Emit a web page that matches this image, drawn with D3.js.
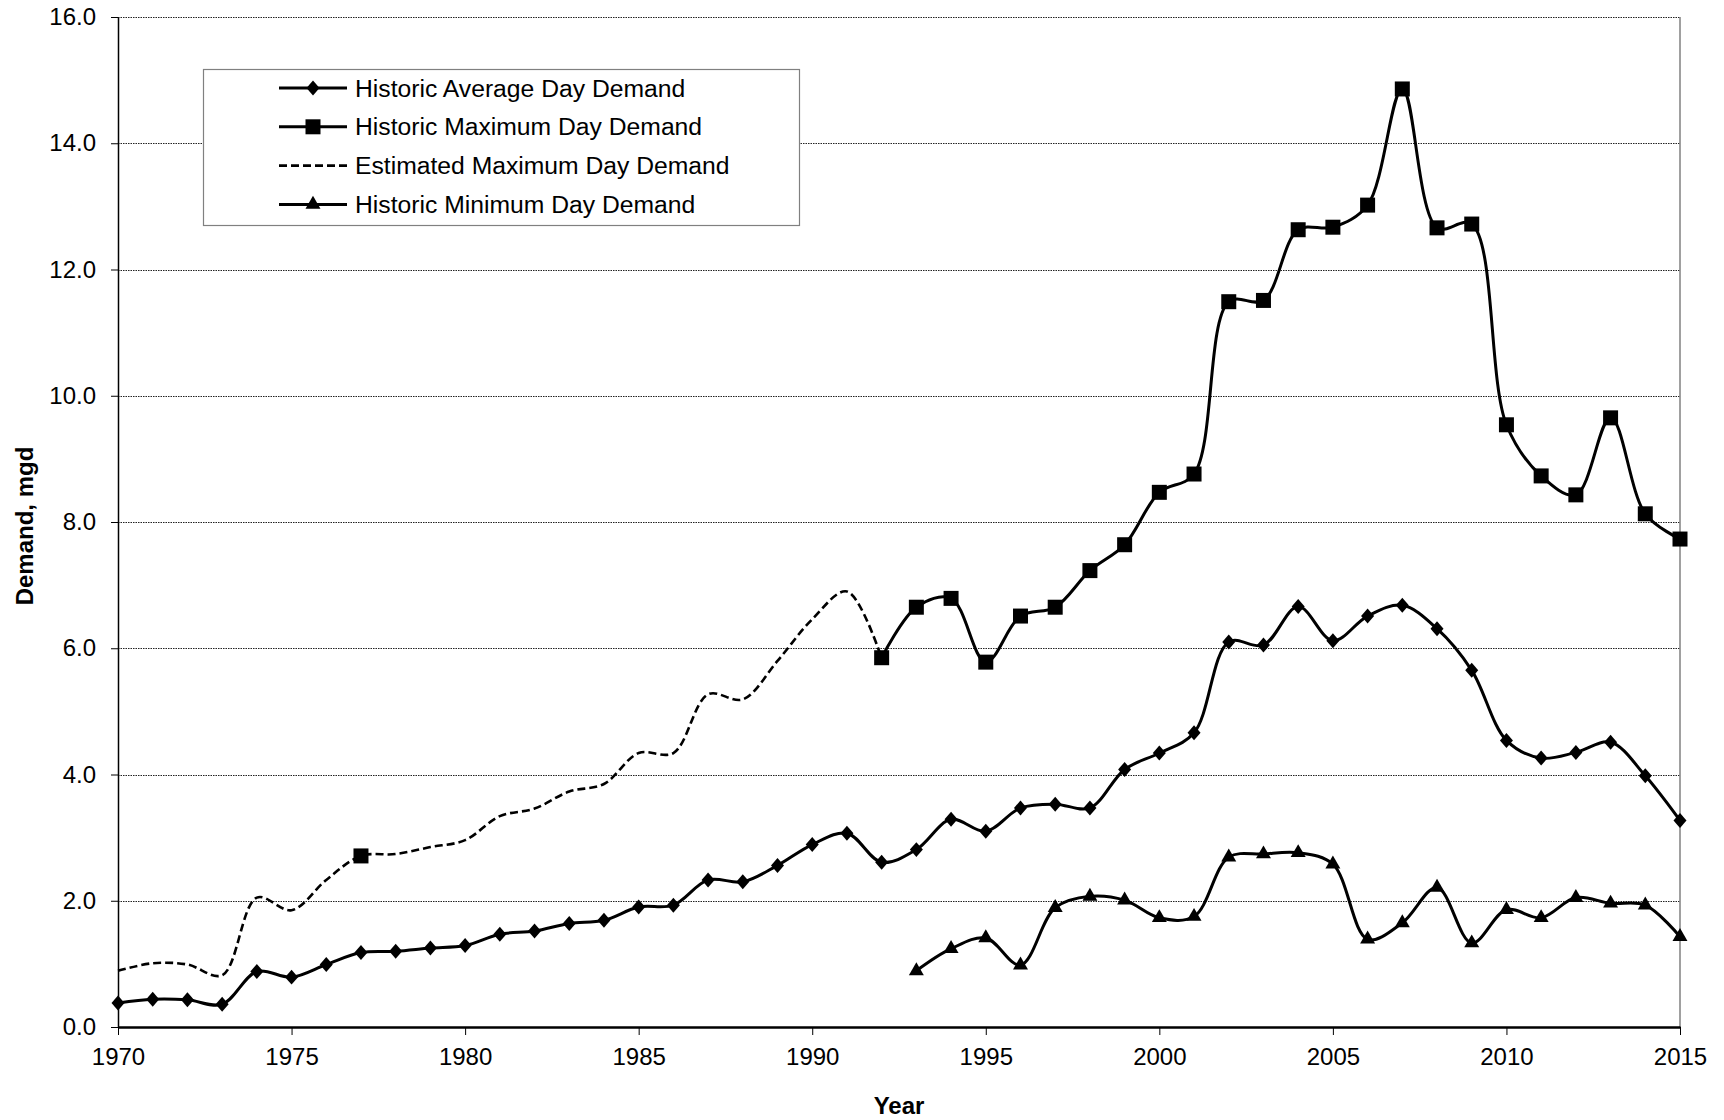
<!DOCTYPE html>
<html>
<head>
<meta charset="utf-8">
<script src="https://cdn.jsdelivr.net/npm/d3@7"></script>
<style>
  body { margin: 0; background: #fff; }
  text { font-family: "Liberation Sans", Arial, sans-serif; fill: #000; }
</style>
</head>
<body>
<div id="chart"></div>
<script>
// data (mgd)
const years = [1970, 1971, 1972, 1973, 1974, 1975, 1976, 1977, 1978, 1979,
  1980, 1981, 1982, 1983, 1984, 1985, 1986, 1987, 1988, 1989,
  1990, 1991, 1992, 1993, 1994, 1995, 1996, 1997, 1998, 1999,
  2000, 2001, 2002, 2003, 2004, 2005, 2006, 2007, 2008, 2009,
  2010, 2011, 2012, 2013, 2014, 2015];

const avgDemand = [0.38, 0.44, 0.43, 0.36, 0.88, 0.79, 0.99, 1.18, 1.20, 1.25,
  1.29, 1.47, 1.52, 1.64, 1.69, 1.90, 1.93, 2.33, 2.30, 2.56,
  2.89, 3.07, 2.61, 2.81, 3.29, 3.10, 3.47, 3.53, 3.47, 4.08,
  4.34, 4.66, 6.10, 6.05, 6.66, 6.12, 6.51, 6.68, 6.31, 5.65,
  4.54, 4.26, 4.35, 4.51, 3.98, 3.27];

const maxDemand = [null, null, null, null, null, null, null, 2.71, null, null,
  null, null, null, null, null, null, null, null, null, null,
  null, null, 5.85, 6.65, 6.79, 5.78, 6.51, 6.65, 7.23, 7.64,
  8.47, 8.76, 11.49, 11.51, 12.63, 12.67, 13.02, 14.86, 12.66, 12.72,
  9.54, 8.73, 8.43, 9.65, 8.13, 7.73];

const estMaxDemand = [0.89, 1.01, 0.99, 0.82, 2.05, 1.85, 2.33, 2.71, 2.74, 2.85,
  2.96, 3.34, 3.46, 3.73, 3.85, 4.34, 4.34, 5.27, 5.19, 5.80,
  6.46, 6.90, 5.84, null, null, null, null, null, null, null,
  null, null, null, null, null, null, null, null, null, null,
  null, null, null, null, null, null];

const minDemand = [null, null, null, null, null, null, null, null, null, null,
  null, null, null, null, null, null, null, null, null, null,
  null, null, null, 0.89, 1.24, 1.41, 0.98, 1.89, 2.07, 2.01,
  1.73, 1.75, 2.69, 2.74, 2.76, 2.58, 1.39, 1.65, 2.21, 1.33,
  1.86, 1.73, 2.05, 1.96, 1.93, 1.43];

const yTicks = [0, 2, 4, 6, 8, 10, 12, 14, 16];
const xTicks = [1970, 1975, 1980, 1985, 1990, 1995, 2000, 2005, 2010, 2015];

// series, in legend order
const series = [
  {name: "Historic Average Day Demand", values: avgDemand, marker: "diamond", dash: null},
  {name: "Historic Maximum Day Demand", values: maxDemand, marker: "square", dash: null},
  {name: "Estimated Maximum Day Demand", values: estMaxDemand, marker: null, dash: "8,4"},
  {name: "Historic Minimum Day Demand", values: minDemand, marker: "triangle", dash: null}
];

// dimensions
const margin = {top: 17, right: 44, bottom: 93, left: 118},
  width = 1724 - margin.left - margin.right,
  height = 1120 - margin.top - margin.bottom;

const svg = d3.select("#chart")
  .append("svg")
    .attr("width", width + margin.left + margin.right)
    .attr("height", height + margin.top + margin.bottom)
  .append("g")
    .attr("transform", `translate(${margin.left},${margin.top})`);

const x = d3.scaleLinear()
  .domain([1970, 2015])
  .range([0, width]);

const y = d3.scaleLinear()
  .domain([0, 16])
  .range([height, 0]);

// gridlines
svg.append("g")
  .selectAll("line")
  .data(yTicks.filter(d => d > 0))
  .join("line")
    .attr("x1", 0)
    .attr("x2", width)
    .attr("y1", d => Math.round(y(d)) + 0.5)
    .attr("y2", d => Math.round(y(d)) + 0.5)
    .attr("stroke", "#222")
    .attr("stroke-width", 1)
    .attr("stroke-dasharray", "1.5,1");

// right border of the plot area
svg.append("line")
  .attr("x1", width)
  .attr("x2", width)
  .attr("y1", 0)
  .attr("y2", height)
  .attr("stroke", "#808080")
  .attr("stroke-width", 1.5);

// Y axis
const yAxis = svg.append("g")
  .call(d3.axisLeft(y).tickValues(yTicks).tickFormat(d3.format(".1f")).tickSize(7).tickSizeOuter(0).tickPadding(15));
yAxis.select(".domain").attr("stroke", "#000").attr("stroke-width", 1.5);
yAxis.selectAll(".tick line").attr("stroke", "#000");
yAxis.selectAll("text")
  .style("font-size", "24px")
  .style("font-family", "'Liberation Sans', Arial, sans-serif");

// X axis
const xAxis = svg.append("g")
  .attr("transform", `translate(0, ${height})`)
  .call(d3.axisBottom(x).tickValues(xTicks).tickFormat(d3.format("d")).tickSize(8).tickSizeOuter(0).tickPadding(13));
xAxis.select(".domain").attr("stroke", "#000").attr("stroke-width", 2.5);
xAxis.selectAll(".tick line").attr("stroke", "#000");
xAxis.selectAll("text")
  .style("font-size", "24px")
  .style("font-family", "'Liberation Sans', Arial, sans-serif");

// axis titles
svg.append("text")
  .attr("x", width / 2)
  .attr("y", height + 87)
  .attr("text-anchor", "middle")
  .style("font-size", "24px")
  .style("font-weight", "bold")
  .text("Year");

svg.append("text")
  .attr("transform", `translate(${33 - margin.left}, ${526 - margin.top}) rotate(-90)`)
  .attr("text-anchor", "middle")
  .style("font-size", "24px")
  .style("font-weight", "bold")
  .text("Demand, mgd");

// marker shapes (diamond is a rotated square, squeezed a little sideways)
const markerPath = {
  diamond: d3.symbol().type(d3.symbolSquare).size(112)(),
  square: d3.symbol().type(d3.symbolSquare).size(225)(),
  triangle: d3.symbol().type(d3.symbolTriangle).size(97)()
};
const markerShape = {diamond: "scale(0.87,1) rotate(45)", square: "", triangle: ""};

// legend
const legend = svg.append("g")
  .attr("transform", `translate(${203 - margin.left},${69 - margin.top})`);

legend.append("rect")
  .attr("x", 0.5)
  .attr("y", 0.5)
  .attr("width", 596)
  .attr("height", 156)
  .attr("fill", "#fff")
  .attr("stroke", "#808080")
  .attr("stroke-width", 1.2);

const legendRow = legend.selectAll("g.item")
  .data(series)
  .join("g")
    .attr("class", "item")
    .attr("transform", (d, i) => `translate(0, ${19 + i * 38.8})`);

legendRow.append("line")
  .attr("x1", 76)
  .attr("x2", 144)
  .attr("stroke", "#000")
  .attr("stroke-width", d => d.dash ? 2.6 : 3)
  .attr("stroke-dasharray", d => d.dash);

legendRow.filter(d => d.marker)
  .append("path")
    .attr("d", d => markerPath[d.marker])
    .attr("transform", d => `translate(110,0) ${markerShape[d.marker]}`)
    .attr("fill", "#000");

legendRow.append("text")
  .attr("x", 152)
  .attr("dy", "0.35em")
  .style("font-size", "24.7px")
  .text(d => d.name);

// lines
const line = d3.line()
  .defined(d => d.v != null)
  .x(d => x(d.year))
  .y(d => y(d.v))
  .curve(d3.curveCatmullRom.alpha(0.5));

series.forEach(s => {
  const pts = years.map((yr, i) => ({year: yr, v: s.values[i]}));

  svg.append("path")
    .datum(pts)
    .attr("fill", "none")
    .attr("stroke", "#000")
    .attr("stroke-width", s.dash ? 2.6 : 3)
    .attr("stroke-dasharray", s.dash)
    .attr("d", line);

  if (s.marker) {
    svg.append("g")
      .selectAll("path")
      .data(pts.filter(d => d.v != null))
      .join("path")
        .attr("d", markerPath[s.marker])
        .attr("transform", d => `translate(${x(d.year)},${y(d.v)}) ${markerShape[s.marker]}`)
        .attr("fill", "#000");
  }
});
</script>
</body>
</html>
